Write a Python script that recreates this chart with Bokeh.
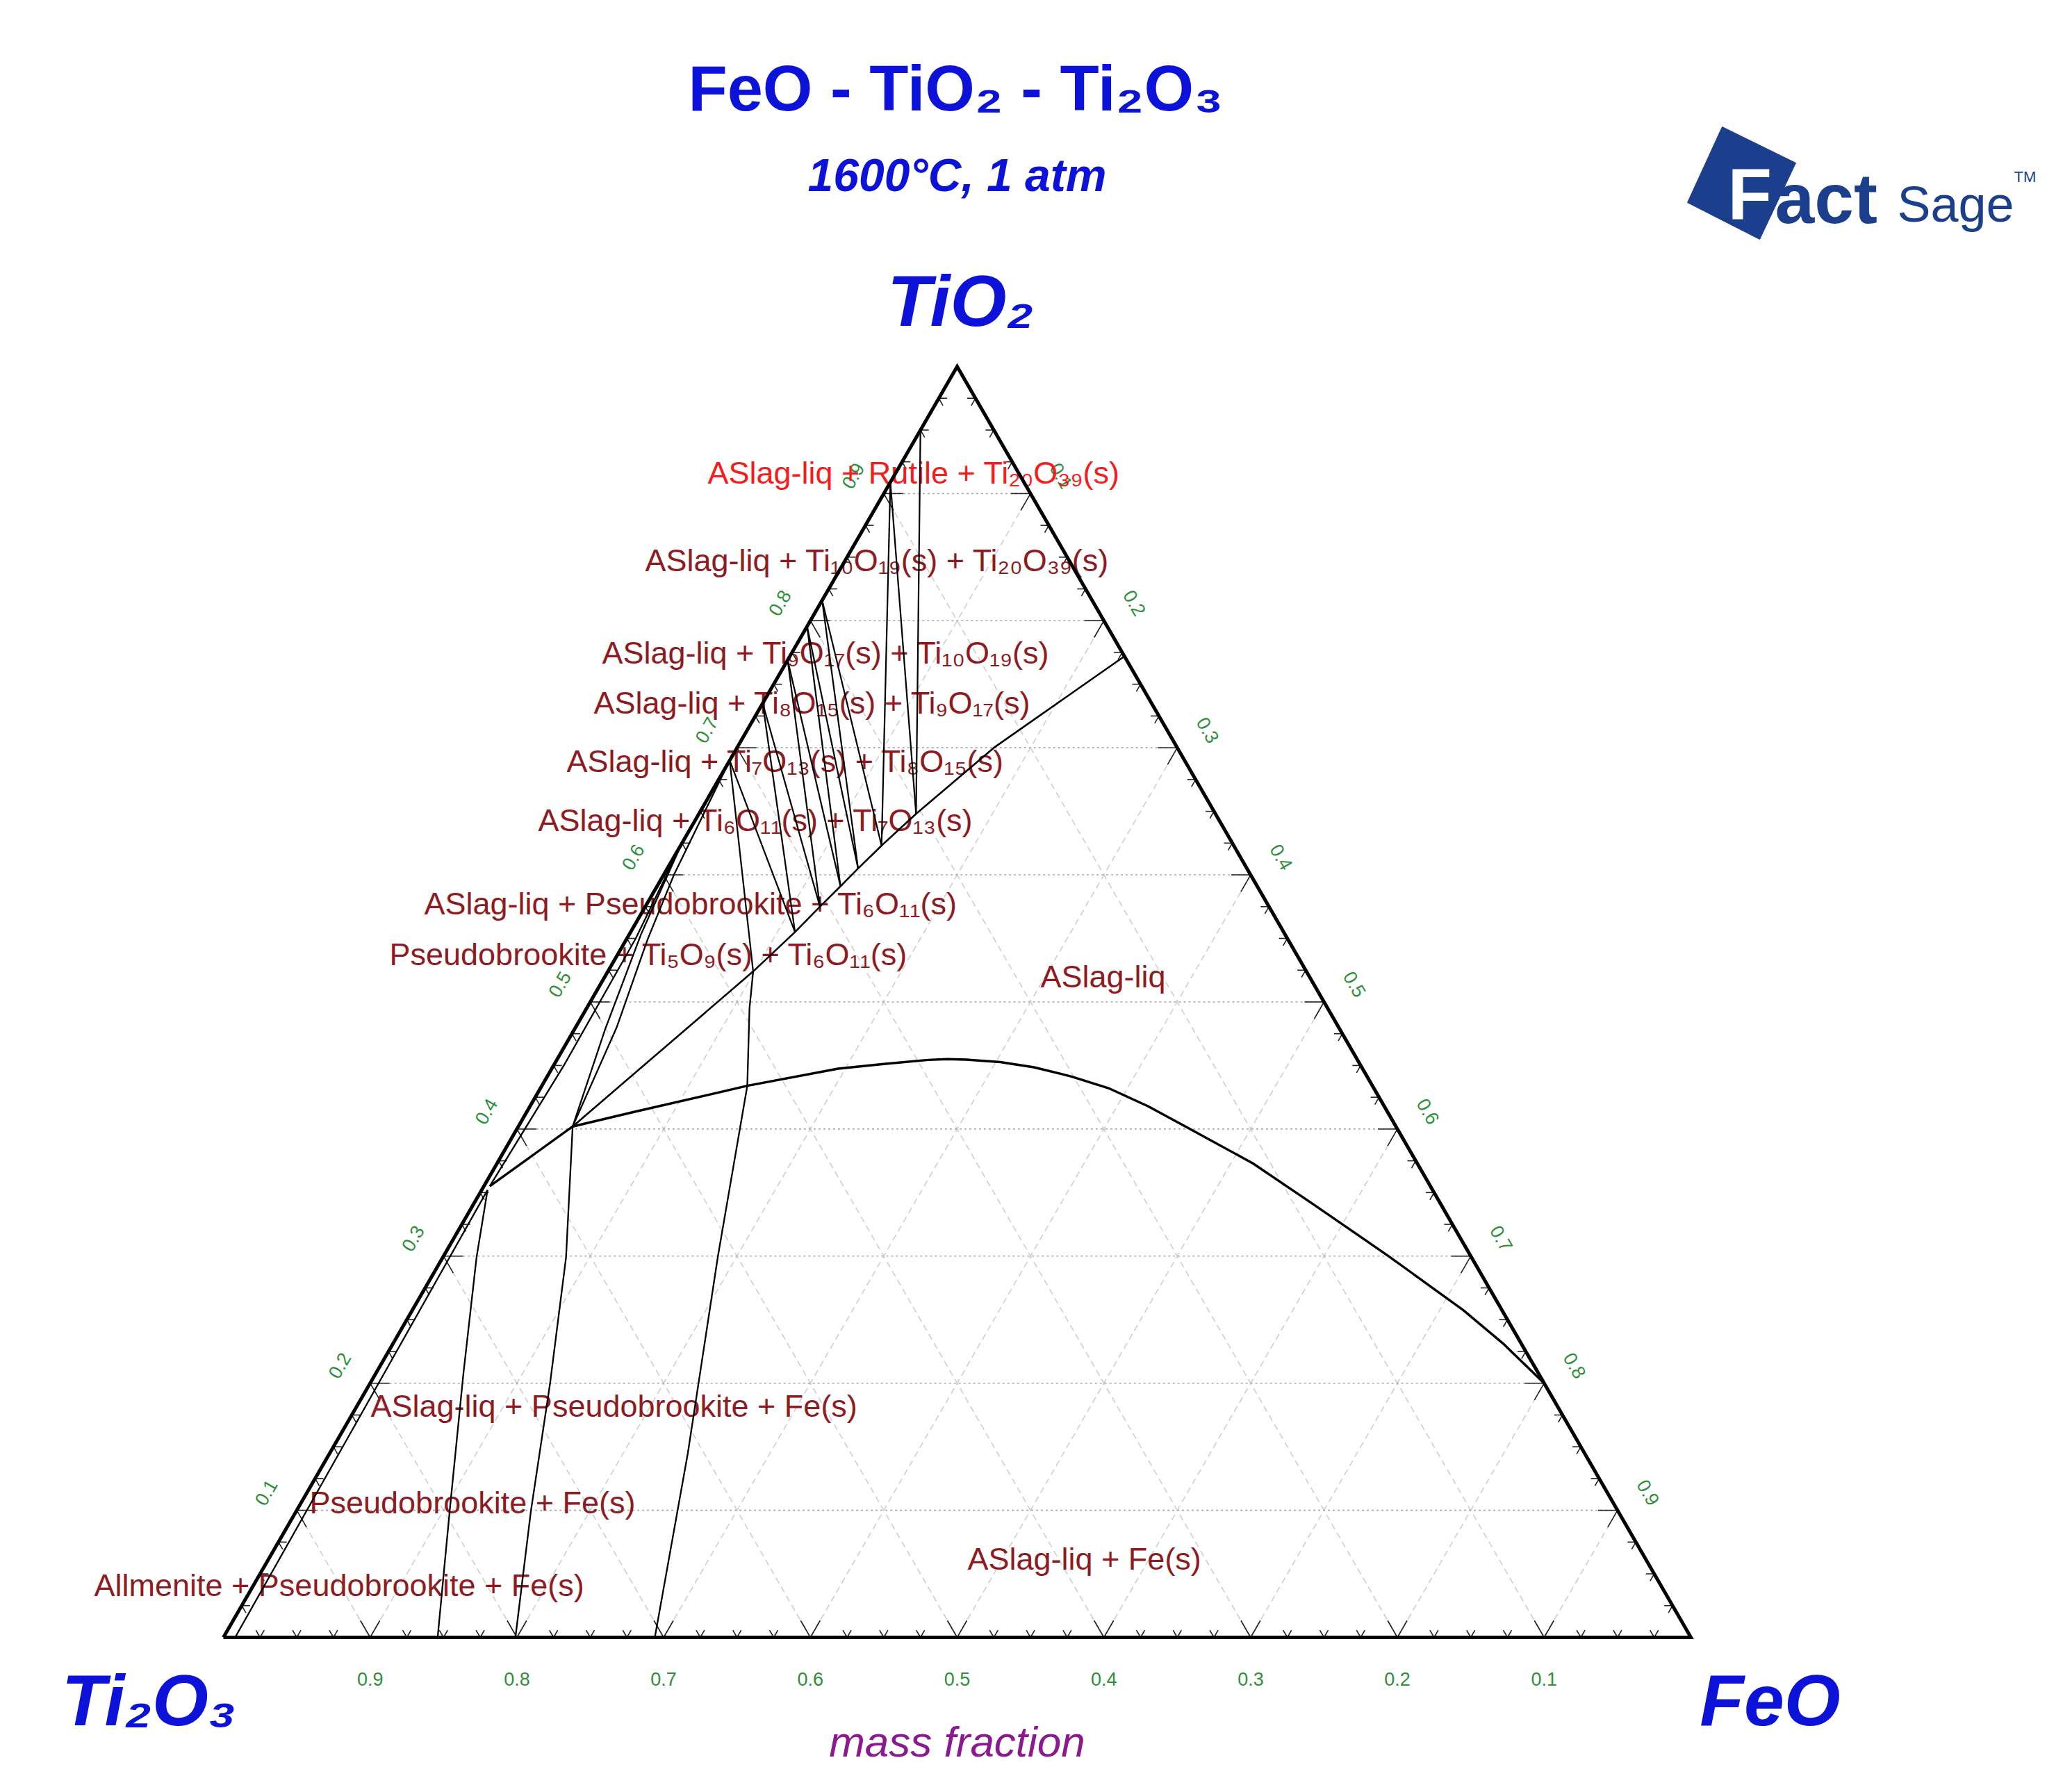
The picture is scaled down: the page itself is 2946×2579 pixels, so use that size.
import numpy as np
from bokeh.plotting import figure
from bokeh.models import ColumnDataSource, Range1d
from bokeh.core.properties import value
from bokeh.embed import file_html
from bokeh.resources import INLINE

# ---------------- data (mass fractions: FeO, TiO2; Ti2O3 = 1 - FeO - TiO2) ----------------
# liquidus boundary ASlag-liq / ASlag-liq + Fe(s)
fe_bound_FeO  = [0.004, 0.037, 0.0735, 0.140, 0.1951, 0.2244, 0.2532, 0.2659, 0.2791, 0.3030,
                 0.328, 0.3573, 0.388, 0.421, 0.454, 0.515, 0.572, 0.644, 0.716, 0.756, 0.800]
fe_bound_TiO2 = [0.355, 0.402, 0.4136, 0.434, 0.4475, 0.4512, 0.4544, 0.4550, 0.4546, 0.4527,
                 0.4486, 0.4413, 0.4318, 0.418, 0.4023, 0.373, 0.341, 0.300, 0.2576, 0.2315, 0.200]

# liquidus boundary towards the Ti-oxide (Magneli) phases
ox_bound_FeO  = [0.037, 0.0695, 0.099, 0.112, 0.119, 0.125, 0.130, 0.137, 0.148, 0.175, 0.228]
ox_bound_TiO2 = [0.402, 0.466, 0.524, 0.555, 0.575, 0.591, 0.605, 0.623, 0.648, 0.700, 0.772]

# solid phases on the TiO2 - Ti2O3 join (TiO2 mass fraction)
solid_names = ["Rutile", "Ti20O39", "Ti10O19", "Ti9O17", "Ti8O15", "Ti7O13", "Ti6O11"]
solid_TiO2  = [0.950, 0.909, 0.816, 0.7955, 0.769, 0.735, 0.690]
# liquid compositions each solid is tied to (FeO, TiO2)
tie_liq_FeO  = [[0.148], [0.148, 0.137], [0.137, 0.130], [0.130, 0.125], [0.125, 0.119], [0.119, 0.112], [0.112, 0.099]]
tie_liq_TiO2 = [[0.648], [0.648, 0.623], [0.623, 0.605], [0.605, 0.591], [0.591, 0.575], [0.575, 0.555], [0.555, 0.524]]

# Fe(s) tie-line boundaries (lower part)
lineA_FeO  = [0.146, 0.103, 0.060, 0.023, 0.004]
lineA_TiO2 = [0.000, 0.103, 0.207, 0.299, 0.352]
lineB_FeO  = [0.199, 0.160, 0.123, 0.084, 0.037]
lineB_TiO2 = [0.000, 0.099, 0.199, 0.299, 0.402]
lineC_FeO  = [0.294, 0.244, 0.187, 0.140, 0.111, 0.099]
lineC_TiO2 = [0.000, 0.145, 0.300, 0.434, 0.495, 0.524]

# thin pseudobrookite / ilmenite strips close to the TiO2-Ti2O3 join
edge1_FeO  = [0.008, 0.006, 0.004]
edge1_TiO2 = [0.000, 0.180, 0.352]
edge2_FeO  = [0.004, 0.007, 0.006, 0.000]
edge2_TiO2 = [0.355, 0.450, 0.550, 0.625]
pb1_FeO    = [0.037, 0.021, 0.008, 0.000]
pb1_TiO2   = [0.402, 0.478, 0.553, 0.625]
pb2_FeO    = [0.037, 0.028, 0.0145, 0.007, 0.000]
pb2_TiO2   = [0.402, 0.480, 0.549, 0.600, 0.690]

# axis ticks / labels
grid_vals  = [0.1, 0.2, 0.3, 0.4, 0.5, 0.6, 0.7, 0.8, 0.9]
tick_step  = 0.025
tick_labels = ["0.1", "0.2", "0.3", "0.4", "0.5", "0.6", "0.7", "0.8", "0.9"]

# phase-region labels: text, left x (page px), centre y (page px), colour
region_text = [
    "ASlag-liq + Rutile + Ti₂₀O₃₉(s)",
    "ASlag-liq + Ti₁₀O₁₉(s) + Ti₂₀O₃₉(s)",
    "ASlag-liq + Ti₉O₁₇(s) + Ti₁₀O₁₉(s)",
    "ASlag-liq + Ti₈O₁₅(s) + Ti₉O₁₇(s)",
    "ASlag-liq + Ti₇O₁₃(s) + Ti₈O₁₅(s)",
    "ASlag-liq + Ti₆O₁₁(s) + Ti₇O₁₃(s)",
    "ASlag-liq + Pseudobrookite + Ti₆O₁₁(s)",
    "Pseudobrookite + Ti₅O₉(s) + Ti₆O₁₁(s)",
    "ASlag-liq",
    "ASlag-liq + Pseudobrookite + Fe(s)",
    "Pseudobrookite + Fe(s)",
    "Allmenite + Pseudobrookite + Fe(s)",
    "ASlag-liq + Fe(s)",
]
region_px_x = [1026, 936, 874, 862, 823, 782, 618, 568, 1505, 541, 453, 143, 1400]
region_px_y = [688, 814, 947, 1019, 1103, 1188, 1308, 1381, 1413, 2031, 2170, 2289, 2251]
region_col  = ["#f41c1c"] + ["#8e1b22"] * 12

# ---------------- geometry ----------------
H = np.sqrt(3) / 2
S = 2112.0          # px per unit side
PX0, PY0 = 329.0, 2364.0   # page px of the Ti2O3 corner


def cart(feo, tio2):
    feo = np.asarray(feo, float)
    tio2 = np.asarray(tio2, float)
    return list(feo + tio2 / 2), list(tio2 * H)


def dx(px):
    return (px - PX0) / S


def dy(py):
    return (PY0 - py) / S


W, Hh = 2930, 2563
p = figure(width=W, height=Hh, output_backend="svg", toolbar_location=None,
           x_range=Range1d(dx(8), dx(8 + W)), y_range=Range1d(dy(8 + Hh), dy(8)),
           x_axis_type=None, y_axis_type=None, min_border=0,
           outline_line_color=None, background_fill_color="white",
           border_fill_color="white")
p.grid.visible = False

FONT = value("Liberation Sans")


def add_text(xs, ys, texts, size, color, style="normal", align="left",
             baseline="middle", angle=0.0, font=FONT):
    src = ColumnDataSource(dict(x=list(xs), y=list(ys), text=list(texts)))
    p.text(x="x", y="y", text="text", source=src, text_font=font,
           text_font_size=f"{size}px", text_font_style=style, text_color=color,
           text_align=align, text_baseline=baseline, angle=angle)


def add_base_text(px, py, text, size, color, style="normal", align="center", font=FONT):
    # py is the visual baseline in page px; compensate renderer's baseline shift
    add_text([dx(px)], [dy(py - 0.28 * size)], [text], size, color, style=style,
             align=align, baseline="alphabetic", font=font)


# ---------------- grid ----------------
hx, hy, dxs, dys = [], [], [], []
for v in grid_vals:
    a = cart([0, 1 - v], [v, v]); hx.append(a[0]); hy.append(a[1])
    b = cart([v, v], [0, 1 - v]); dxs.append(b[0]); dys.append(b[1])
    c = cart([1 - v, 0], [0, 1 - v]); dxs.append(c[0]); dys.append(c[1])
p.multi_line(dxs, dys, line_color="#cfcfcf", line_width=1.6, line_dash="9 6")
p.multi_line(hx, hy, line_color="#a8a8a8", line_width=1.6, line_dash="3 4")

# ---------------- ticks ----------------
tx, ty = [], []
n = int(round(1 / tick_step))
for k in range(1, n):
    v = k * tick_step
    L = (28 if k % 4 == 0 else 12) / S
    a = cart([v, v], [0, L]); tx.append(a[0]); ty.append(a[1])
    a = cart([v, v - L], [0, L]); tx.append(a[0]); ty.append(a[1])
    a = cart([0, L], [v, v]); tx.append(a[0]); ty.append(a[1])
    a = cart([0, L], [v, v - L]); tx.append(a[0]); ty.append(a[1])
    a = cart([v, v - L], [1 - v, 1 - v]); tx.append(a[0]); ty.append(a[1])
    a = cart([v, v], [1 - v, 1 - v - L]); tx.append(a[0]); ty.append(a[1])
p.multi_line(tx, ty, line_color="#222222", line_width=1.6)

# ---------------- tick labels ----------------
GREEN = "#2f8f3a"
off = 51 / S
bx = [1 - v for v in grid_vals]
by = [dy(2424)] * len(grid_vals)
add_text(bx, by, tick_labels, 27, GREEN, align="center")
lx = [v / 2 - off * H for v in grid_vals]
ly = [v * H + off * 0.5 for v in grid_vals]
add_text(lx, ly, tick_labels, 27, GREEN, align="center", angle=np.pi / 3)
rx = [(1 + v) / 2 + off * H for v in grid_vals]
ry = [(1 - v) * H + off * 0.5 for v in grid_vals]
add_text(rx, ry, tick_labels, 27, GREEN, align="center", angle=-np.pi / 3)

# ---------------- region labels ----------------
for col in sorted(set(region_col)):
    idx = [i for i, c in enumerate(region_col) if c == col]
    add_text([dx(region_px_x[i]) for i in idx], [dy(region_px_y[i]) for i in idx],
             [region_text[i] for i in idx], 45, col)

# ---------------- phase boundaries ----------------
fx, fy = cart(fe_bound_FeO, fe_bound_TiO2)
p.line(fx, fy, line_color="black", line_width=3.4, line_join="round")
ox, oy = cart(ox_bound_FeO, ox_bound_TiO2)
p.line(ox, oy, line_color="black", line_width=2.6, line_join="round")

fan_x, fan_y = [], []
for st, lf, lt in zip(solid_TiO2, tie_liq_FeO, tie_liq_TiO2):
    for f_, t_ in zip(lf, lt):
        a = cart([0.0, f_], [st, t_]); fan_x.append(a[0]); fan_y.append(a[1])
p.multi_line(fan_x, fan_y, line_color="black", line_width=2.2)

low_x, low_y = [], []
for F, T in [(lineA_FeO, lineA_TiO2), (lineB_FeO, lineB_TiO2), (lineC_FeO, lineC_TiO2),
             (edge1_FeO, edge1_TiO2), (edge2_FeO, edge2_TiO2),
             (pb1_FeO, pb1_TiO2), (pb2_FeO, pb2_TiO2)]:
    a = cart(F, T); low_x.append(a[0]); low_y.append(a[1])
p.multi_line(low_x, low_y, line_color="black", line_width=2.3, line_join="round")

# triangle frame
trx, try_ = cart([0, 1, 0, 0], [0, 0, 1, 0])
p.line(trx, try_, line_color="black", line_width=5, line_join="miter")

# ---------------- titles and corner labels ----------------
BLUE = "#0c12d8"
add_base_text(1383, 160, "FeO - TiO₂ - Ti₂O₃", 92, BLUE, style="bold")
add_base_text(1385, 278, "1600°C, 1 atm", 66, BLUE, style="bold italic")
add_base_text(1390, 470, "TiO₂", 104, BLUE, style="bold italic")
add_base_text(222, 2484, "Ti₂O₃", 104, BLUE, style="bold italic")
add_base_text(2555, 2484, "FeO", 104, BLUE, style="bold italic")
add_base_text(1385, 2531, "mass fraction", 62, "#8a1a8e", style="italic")

# ---------------- FactSage logo ----------------
NAVY = "#1b3f8c"
logo_px = [(2486, 190), (2592, 242), (2540, 352), (2436, 299)]
p.patch([dx(a) for a, b in logo_px], [dy(b) for a, b in logo_px], fill_color=NAVY,
        line_color=NAVY)
logo_txt = ["F", "act", "Sage", "TM"]
logo_x = [2494, 2562, 2738, 2906]
logo_y = [316, 322, 322, 268]
logo_size = [104, 102, 72, 22]
logo_col = ["white", NAVY, NAVY, NAVY]
logo_sty = ["bold", "bold", "normal", "normal"]
for t_, x_, y_, s_, c_, st_ in zip(logo_txt, logo_x, logo_y, logo_size, logo_col, logo_sty):
    add_base_text(x_, y_, t_, s_, c_, style=st_, align="left")

open("out.html", "w").write(file_html(p, INLINE))
